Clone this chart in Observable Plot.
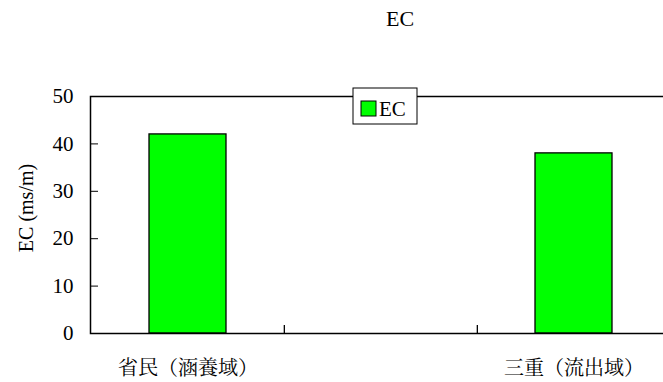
<!DOCTYPE html>
<html>
<head>
<meta charset="utf-8">
<script src="https://cdn.jsdelivr.net/npm/d3@7"></script>
<script src="https://cdn.jsdelivr.net/npm/@observablehq/plot@0.6"></script>
<style>
html, body { margin: 0; padding: 0; background: #fff; overflow: hidden; }
#chart svg { display: block; max-width: none !important; }
</style>
</head>
<body>
<div id="chart"></div>
<script>
const categories = ["省民（涵養域）", " ", "三重（流出域）"];
const seriesName = "EC";
const values = [42, null, 38];
const yTicks = [0, 10, 20, 30, 40, 50];
const titleText = "EC";
const yLabel = "EC (ms/m)";

const data = categories.map((c, i) => ({cat: c, v: values[i]})).filter(d => d.v != null);
const font = "'Liberation Serif', 'Noto Serif CJK JP', 'Noto Sans CJK JP', serif";

const W = 670, H = 382, mL = 90, mR = 0, mT = 96, mB = 49;
const band = (W - mL - mR) / categories.length;

const plot = Plot.plot({
  width: W,
  height: H,
  marginLeft: mL,
  marginRight: mR,
  marginTop: mT,
  marginBottom: mB,
  style: {fontFamily: font, fontSize: "21px", color: "#000", background: "#fff", overflow: "visible", maxWidth: "none"},
  x: {domain: categories, padding: 0},
  y: {domain: [0, 50]},
  marks: [
    Plot.barY(data, {x: "cat", y: "v", fill: "#00ff00", stroke: "#000", strokeWidth: 1.3, insetLeft: 58, insetRight: 58}),
    Plot.axisY({ticks: yTicks, tickSize: -8, tickPadding: 25, label: null, fontSize: 21}),
    Plot.axisX({tickSize: 0, tickPadding: 27, label: null, fontSize: 20}),
    Plot.ruleX(categories.slice(1), {x: d => d, y1: 0, y2: 1.7, dx: -band / 2, stroke: "#000", strokeWidth: 1.3}),
    Plot.frame({stroke: "#000", strokeWidth: 1.5}),
    Plot.text([yLabel], {frameAnchor: "left", textAnchor: "middle", dx: -64, dy: -7, rotate: -90, fontSize: 20, fill: "#000"})
  ]
});

const svg = d3.select(plot);
svg.append("text")
  .attr("x", 400).attr("y", 26)
  .attr("text-anchor", "middle")
  .attr("font-family", font).attr("font-size", 22)
  .text(titleText);

const lg = svg.append("g");
lg.append("rect").attr("x", 353).attr("y", 88).attr("width", 64).attr("height", 36)
  .attr("fill", "#fff").attr("stroke", "#000").attr("stroke-width", 1);
lg.append("rect").attr("x", 361).attr("y", 101).attr("width", 15).attr("height", 15)
  .attr("fill", "#00ff00").attr("stroke", "#000").attr("stroke-width", 1);
lg.append("text").attr("x", 379).attr("y", 116)
  .attr("text-anchor", "start")
  .attr("font-family", font).attr("font-size", 21)
  .text(seriesName);

document.getElementById("chart").appendChild(plot);
</script>
</body>
</html>
